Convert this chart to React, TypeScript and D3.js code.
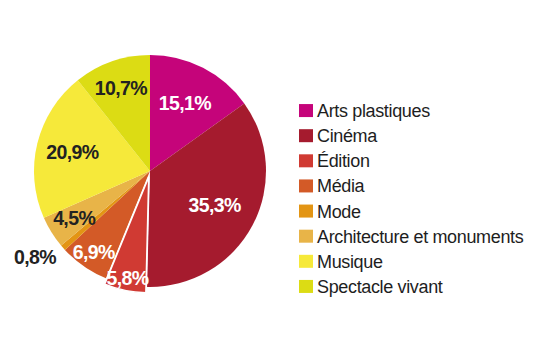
import { useEffect, useRef } from "react";
import * as d3 from "d3";

const categories = [
  "Arts plastiques",
  "Cinéma",
  "Édition",
  "Média",
  "Mode",
  "Architecture et monuments",
  "Musique",
  "Spectacle vivant",
];
const values = [15.1, 35.3, 5.8, 6.9, 0.8, 4.5, 20.9, 10.7];
const labels = ["15,1%", "35,3%", "5,8%", "6,9%", "0,8%", "4,5%", "20,9%", "10,7%"];
const colors = ["#c5047a", "#a51b2e", "#d03a33", "#d35a27", "#e39514", "#e8b448", "#f6e93a", "#dcdc14"];
const labelColors = ["#fff", "#fff", "#fff", "#fff", "#222", "#222", "#222", "#222"];

export default function App() {
  const ref = useRef<SVGSVGElement>(null);

  useEffect(() => {
    const svg = d3.select(ref.current);
    svg.selectAll("*").remove();
    const cx = 150, cy = 171, r = 116;
    // label distance from centre (share of radius) and small angular nudge (degrees)
    const labelR = [0.66, 0.63, 0.94, 0.85, 1.24, 0.77, 0.69, 0.76];
    const labelTurn = [0, 0, 0, 0, 4.5, 0, 0, 0];
    const explode = [0, 0, 6, 0, 0, 0, 0, 0];

    const pie = d3.pie<number>().sort(null).value(d => d);
    const arcs = pie(values);
    const arc = d3.arc<d3.PieArcDatum<number>>().innerRadius(0).outerRadius(r);

    const g = svg.append("g").attr("transform", `translate(${cx},${cy})`);

    // draw the exploded slice last so its white border stays on top
    const order = arcs.map((_, i) => i).sort((a, b) => explode[a] - explode[b]);
    order.forEach(i => {
      const a = arcs[i];
      const mid = (a.startAngle + a.endAngle) / 2;
      const dx = Math.sin(mid) * explode[i];
      const dy = -Math.cos(mid) * explode[i];
      g.append("path")
        .attr("d", arc(a))
        .attr("transform", `translate(${dx},${dy})`)
        .attr("fill", colors[i])
        .attr("stroke", explode[i] ? "#fff" : "none")
        .attr("stroke-width", 1.5);
    });

    arcs.forEach((a, i) => {
      const mid = (a.startAngle + a.endAngle) / 2 + (labelTurn[i] * Math.PI) / 180;
      const lr = r * labelR[i];
      g.append("text")
        .attr("x", Math.sin(mid) * lr)
        .attr("y", -Math.cos(mid) * lr)
        .attr("dy", "0.36em")
        .attr("text-anchor", "middle")
        .attr("font-family", "'Liberation Sans', Arial, sans-serif")
        .attr("font-weight", "bold")
        .attr("font-size", 19.5)
        .attr("letter-spacing", -0.6)
        .attr("fill", labelColors[i])
        .text(labels[i]);
    });

    // legend
    const y = d3.scaleBand<string>().domain(categories).range([98, 299]);
    const lg = svg.append("g");
    categories.forEach((c, i) => {
      const yy = y(c)! + y.bandwidth() / 2;
      lg.append("rect")
        .attr("x", 299)
        .attr("y", yy - 6.5)
        .attr("width", 14)
        .attr("height", 13)
        .attr("fill", colors[i]);
      lg.append("text")
        .attr("x", 317)
        .attr("y", yy + 6.5)
        .attr("font-family", "'Liberation Sans', Arial, sans-serif")
        .attr("font-size", 18)
        .attr("letter-spacing", -0.35)
        .attr("fill", "#1e1e1e")
        .text(c);
    });
  }, []);

  return (
    <div>
      <svg ref={ref} width={540} height={360} style={{ position: "absolute", left: 0, top: 0, background: "#fff" }} />
    </div>
  );
}
